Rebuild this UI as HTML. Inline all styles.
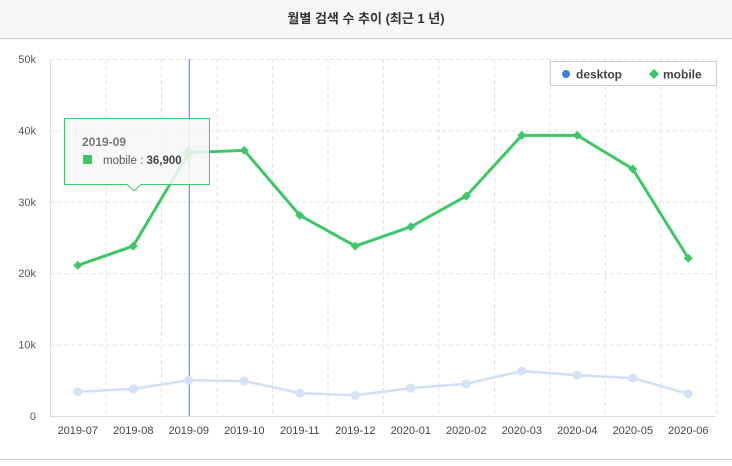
<!DOCTYPE html>
<html><head><meta charset="utf-8"><style>
body{margin:0;background:#fff;width:732px;height:461px;overflow:hidden;font-family:"Liberation Sans","Noto Sans CJK KR",sans-serif}
</style></head><body>
<svg width="732" height="461" xmlns="http://www.w3.org/2000/svg" font-family="Liberation Sans, Noto Sans CJK KR, sans-serif">
<rect x="0" y="0" width="732" height="38" fill="#f7f7f7"/>
<line x1="0" y1="38.5" x2="732" y2="38.5" stroke="#ccc"/>
<text x="366" y="23" text-anchor="middle" font-size="13" font-weight="bold" fill="#333">월별 검색 수 추이 (최근 1 년)</text>
<line x1="0" y1="459.5" x2="732" y2="459.5" stroke="#ccc"/>
<g id="grid"></g><g id="axes"></g><g id="series"></g>
<g>
<rect x="550.5" y="61.5" width="166" height="24" fill="#fff" stroke="#ccc"/>
<circle cx="566" cy="74" r="4" fill="#3b7de0"/>
<text x="576" y="78.5" font-size="12" font-weight="bold" fill="#444">desktop</text>
<path d="M654 69 L659 74 L654 79 L649 74Z" fill="#3cc864"/>
<text x="663" y="78.5" font-size="12" font-weight="bold" fill="#444">mobile</text>
</g>
</svg>
<script>
const categories=["2019-07","2019-08","2019-09","2019-10","2019-11","2019-12","2020-01","2020-02","2020-03","2020-04","2020-05","2020-06"];
const mobile=[21100,23800,36900,37200,28100,23800,26500,30800,39300,39300,34600,22100];
const desktop=[3400,3800,5000,4900,3200,2900,3900,4500,6300,5700,5300,3100];
const yTicks=[0,10000,20000,30000,40000,50000];
const yTickLabels=["0","10k","20k","30k","40k","50k"];
const hoverIndex=2;
const NS="http://www.w3.org/2000/svg";
const L=50,R=716,T=59,B=416,yMax=50000;
const bw=(R-L)/categories.length;
const x=i=>L+bw*(i+0.5);
const y=v=>B-(v/yMax)*(B-T);
function el(tag,attrs,parent){const e=document.createElementNS(NS,tag);for(const k in attrs)e.setAttribute(k,attrs[k]);parent.appendChild(e);return e;}
const grid=document.getElementById('grid'),axes=document.getElementById('axes'),series=document.getElementById('series');
yTicks.forEach((t,i)=>{
 if(t>0){const g=el('line',{x1:L,x2:R,y1:y(t)+.5,y2:y(t)+.5,stroke:'#e3e3e3','stroke-dasharray':'4,3'},grid);
 }
 const tx=el('text',{x:L-14,y:y(t)+4,'text-anchor':'end','font-size':'11',fill:'#555'},axes);tx.textContent=yTickLabels[i];
 
});
for(let i=1;i<=categories.length;i++){const g=el('line',{x1:L+bw*i+.5,x2:L+bw*i+.5,y1:T,y2:B,stroke:'#e3e3e3','stroke-dasharray':'4,3'},grid);
 }
const ya=el('line',{x1:L+.5,x2:L+.5,y1:T,y2:B,stroke:'#ddd'},axes);
const xa=el('line',{x1:L,x2:R,y1:B+.5,y2:B+.5,stroke:'#ddd'},axes);
categories.forEach((c,i)=>{const tx=el('text',{x:x(i),y:B+18,'text-anchor':'middle','font-size':'11',fill:'#444'},axes);tx.textContent=c;
 });
const cl=el('line',{x1:x(hoverIndex)+.5,x2:x(hoverIndex)+.5,y1:T,y2:B,stroke:'#3b7de0'},series);

// desktop
const dl=el('polyline',{points:desktop.map((v,i)=>x(i)+','+y(v)).join(' '),fill:'none',stroke:'#cfe0f7','stroke-width':'2.5'},series);

desktop.forEach((v,i)=>{const c=el('circle',{cx:x(i),cy:y(v),r:4.5,fill:'#d3e2f8'},series);
 });
// mobile
const ml=el('polyline',{points:mobile.map((v,i)=>x(i)+','+y(v)).join(' '),fill:'none',stroke:'#3cc864','stroke-width':'3'},series);

mobile.forEach((v,i)=>{const cx=x(i),cy=y(v),s=i===hoverIndex?6:4.5;
 if(i===hoverIndex){const h=el('circle',{cx,cy,r:9,fill:'#3cc864',opacity:.15},series);}
 const p=el('path',{d:`M${cx} ${cy-s} L${cx+s} ${cy} L${cx} ${cy+s} L${cx-s} ${cy}Z`,fill:'#3cc864'},series);
 });
// tooltip
const tt=el('g',{},series);
el('path',{d:'M64.5 118.5 H209.5 V184.5 H141 L134 191 L127 184.5 H64.5Z',fill:'#f7f7f7','fill-opacity':'0.85',stroke:'#3cc864'},tt);
const t1=el('text',{x:82,y:146,'font-size':'12','font-weight':'bold',fill:'#777'},tt);t1.textContent=categories[hoverIndex];
el('rect',{x:83,y:155,width:9,height:9,fill:'#3cc864',rx:1},tt);
const t2=el('text',{x:103,y:164,'font-size':'11.5',fill:'#555'},tt);
t2.innerHTML='mobile : <tspan font-weight="bold" fill="#444">'+mobile[hoverIndex].toLocaleString('en-US')+'</tspan>';
</script>
</body></html>
